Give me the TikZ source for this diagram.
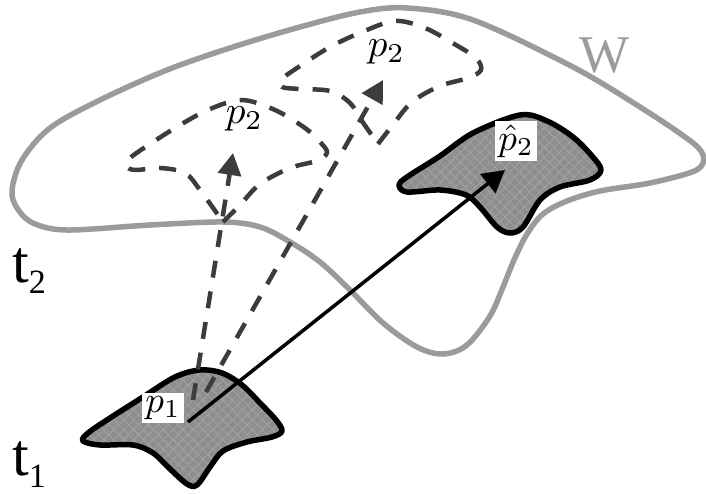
\documentclass[tikz,border=0pt]{standalone}
\usepackage{fontspec}
\newfontfamily\timesfont{Liberation Serif}
\usetikzlibrary{arrows.meta,patterns.meta}
\definecolor{wgray}{RGB}{155,155,155}
\definecolor{dgray}{RGB}{60,60,60}
\definecolor{fillg}{RGB}{142,142,142}
\definecolor{hatchg}{RGB}{162,162,162}
\begin{document}
\begin{tikzpicture}[x=1pt,y=-1pt,
  wline/.style={draw=wgray,line width=5.5pt,line join=round},
  dline/.style={draw=dgray,line width=4.5pt,dash pattern=on 17pt off 14pt,line cap=butt},
  darrow/.style={dline,-{Triangle[length=22pt,width=23pt]},fill=none},
  region/.style={draw=black,line width=5.5pt,line join=round,
    preaction={fill=fillg},
    pattern={Hatch[angle=45,distance=7pt,line width=0.8pt]},pattern color=hatchg},
  sarrow/.style={draw=black,line width=3.5pt,-{Triangle[length=22pt,width=24pt]}},
  mlbl/.style={inner sep=0pt,scale=3.9},
  boxlbl/.style={fill=white,inner sep=1pt,scale=3.7},
  tlbl/.style={inner sep=0pt,font=\timesfont\fontsize{60}{60}\selectfont},
]
\useasboundingbox (0,0) rectangle (706,494);

% W region
\draw[wline] plot[smooth cycle,tension=0.55] coordinates {
  (12,190) (22,160) (50,128) (100,100) (167,70) (233,47) (300,27) (360,12)
  (407,8) (473,20) (573,67) (640,107) (685,137) (701,151) (703,163) (692,172)
  (650,183) (600,191) (567,201) (543,214) (527,234) (514,260) (503,287)
  (490,316) (467,345) (443,354) (417,347) (383,323) (350,290) (320,262)
  (290,242) (260,227) (223,222) (150,225) (67,230) (33,223) (17,208)};
\node[tlbl,anchor=base west,text=wgray,font=\timesfont\fontsize{53}{53}\selectfont] (W) at (579,73) {W};

% dashed candidate regions
\draw[dline] plot[smooth,tension=0.55] coordinates {
  (223,222) (240,205) (260,184) (290,168) (316,161) (327,153) (321,143)
  (305,128) (275,110) (242,100) (210,109) (180,125) (150,144) (130,158)
  (126,166) (135,170) (160,168) (185,173) (200,190) (223,222)};
\draw[dline] plot[smooth,tension=0.55] coordinates {
  (378,144) (392,126) (412,102) (440,86) (468,78) (481,70) (476,58)
  (456,45) (425,28) (395,21) (362,32) (330,47) (300,66) (282,79)
  (282,87) (300,89) (330,91) (350,103) (364,124) (378,144)};

% source region p1
\draw[region] plot[smooth cycle,tension=0.55] coordinates {
  (200,370) (222,373) (242,385) (260,403) (276,420) (282,431) (272,437)
  (247,442) (223,451) (210,467) (197,485) (187,484) (170,469) (153,453)
  (133,445) (100,445) (83,441) (88,433) (110,418) (143,397) (175,377)};

% predicted region p2 hat
\draw[region] plot[smooth cycle,tension=0.55] coordinates {
  (520,115) (547,121) (573,137) (592,156) (601,170) (590,180) (560,187)
  (540,200) (523,227) (510,233) (497,227) (480,207) (466,195) (440,190)
  (407,192) (399,185) (407,177) (440,156) (473,133)};

% coordinates for connectors
\coordinate (s1) at (193,400);
\coordinate (e1) at (233,153);
\coordinate (s2) at (206,392);
\coordinate (e2) at (383,80);
\coordinate (s3) at (188,422);
\coordinate (e3) at (505,170);

\draw[darrow] (s1) -- (e1);
\draw[darrow] (s2) -- (e2);
\draw[sarrow] (s3) -- (e3);

% labels
\node[boxlbl] (p1) at (163,408) {$p_1$};
\node[boxlbl] (p2h) at (516,141) {$\hat p_2$};
\node[mlbl,anchor=base west] (p2a) at (367,57) {$p_2$};
\node[mlbl,anchor=base west] (p2b) at (225,124) {$p_2$};

\node[tlbl,anchor=base west] (t2) at (12,282) {t\raisebox{-0.19em}{\fontsize{34}{34}\selectfont 2}};
\node[tlbl,anchor=base west] (t1) at (12,475) {t\raisebox{-0.2em}{\fontsize{34}{34}\selectfont 1}};
\end{tikzpicture}
\end{document}
